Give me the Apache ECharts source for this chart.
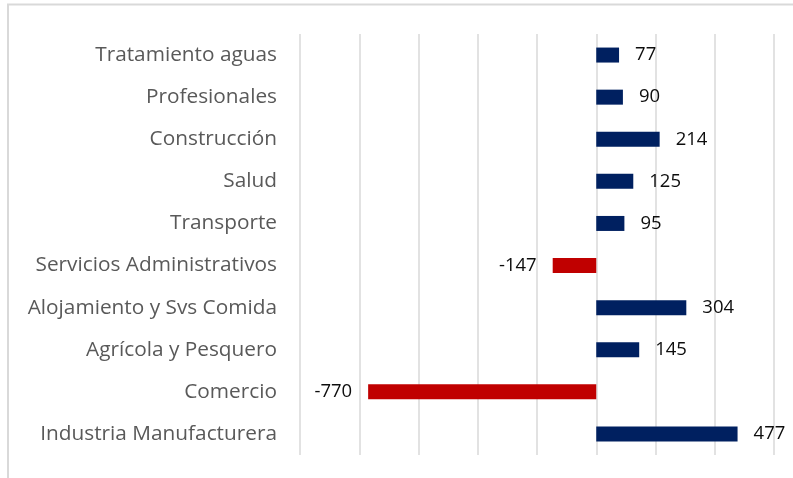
<!DOCTYPE html>
<html style="height: 100%">
<head>
<meta charset="utf-8">
<script type="text/javascript" src="https://cdn.jsdelivr.net/npm/echarts@6/dist/echarts.min.js"></script>
</head>
<body style="height: 100%; margin: 0; background: #fff">
	<div id="container" style="width: 793px; height: 478px"></div>
	<script type="text/javascript">
		// datos (de arriba hacia abajo en el grafico)
		var categorias = ['Tratamiento aguas', 'Profesionales', 'Construcción', 'Salud', 'Transporte',
			'Servicios Administrativos', 'Alojamiento y Svs Comida', 'Agrícola y Pesquero', 'Comercio', 'Industria Manufacturera'];
		var valores = [77, 90, 214, 125, 95, -147, 304, 145, -770, 477];

		var azul = '#002060';
		var rojo = '#C00000';

		var dom = document.getElementById("container");
		var myChart = echarts.init(dom);

		var datos = [];
		for (var i = 0; i < valores.length; i++) {
			var v = valores[i];
			datos.push({
				value: v,
				itemStyle: { color: v < 0 ? rojo : azul },
				label: { position: v < 0 ? 'left' : 'right' }
			});
		}

		var option = {
			animation: false,
			textStyle: { fontFamily: 'Open Sans' },
			grid: { left: 300, right: 19, top: 34, bottom: 23 },
			graphic: [
				{
					type: 'polyline',
					shape: { points: [[8, 478], [8, 4.5], [793, 4.5]] },
					style: { stroke: '#d9d9d9', lineWidth: 2, fill: null }
				}
			],
			xAxis: {
				type: 'value',
				min: -1000,
				max: 600,
				interval: 200,
				axisLabel: { show: false },
				axisLine: { show: false },
				axisTick: { show: false },
				splitLine: { lineStyle: { color: '#d9d9d9', width: 1.5 } }
			},
			yAxis: {
				type: 'category',
				inverse: true,
				data: categorias,
				axisLine: { show: false },
				axisTick: { show: false },
				axisLabel: {
					margin: 23,
					fontSize: 20.8,
					color: '#595959',
					fontFamily: 'Open Sans'
				}
			},
			series: [
				{
					type: 'bar',
					data: datos,
					barWidth: 15,
					label: {
						show: true,
						distance: 16,
						fontSize: 18.5,
						color: '#0d0d0d',
						fontFamily: 'Open Sans'
					}
				}
			]
		};
		myChart.setOption(option, true);
	</script>
</body>
</html>
